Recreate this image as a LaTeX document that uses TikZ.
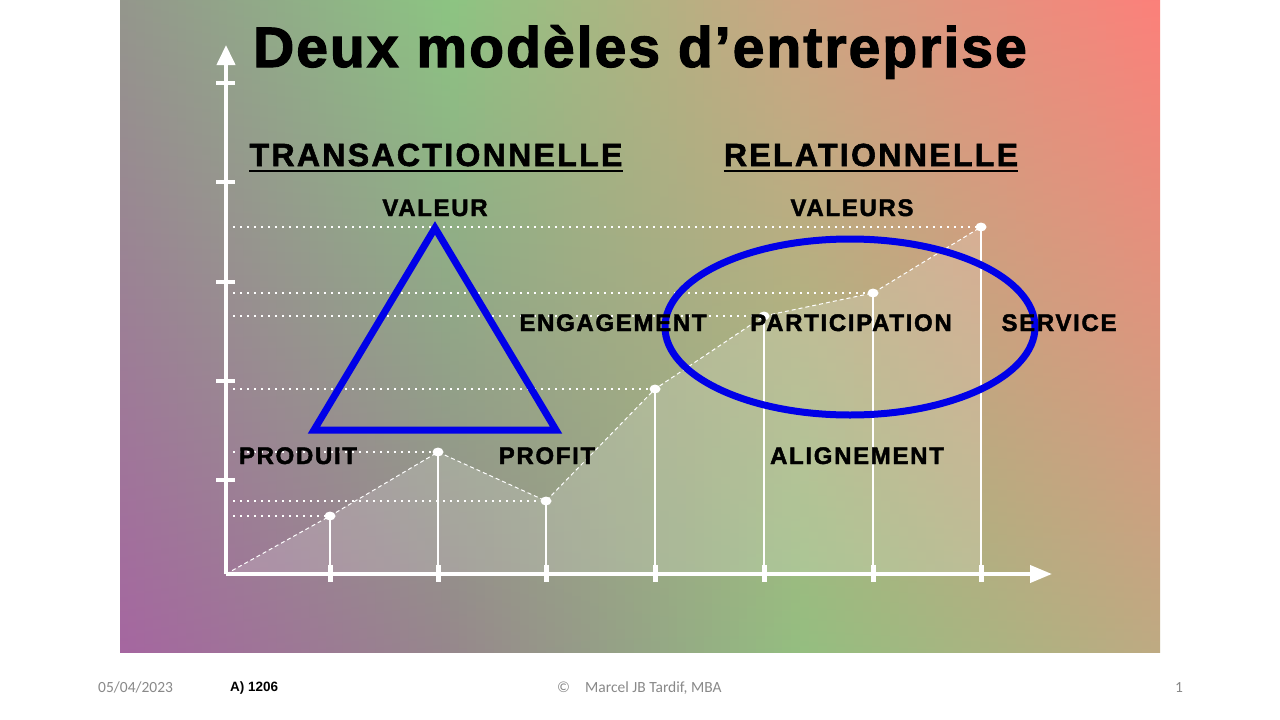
\documentclass[tikz,border=0pt]{standalone}
\usepackage{fontspec}
\setmainfont{Liberation Sans}
\newfontfamily\titlefont[LetterSpace=3.6,FakeBold=2]{Liberation Sans Bold}
\newfontfamily\headfont[LetterSpace=7.3,FakeBold=1.8]{Liberation Sans Bold}
\newfontfamily\lblfont[LetterSpace=7,FakeBold=1.8]{Liberation Sans Bold}
\newfontfamily\codefont{Liberation Sans Bold}
\newfontfamily\footfont{Carlito}
\usetikzlibrary{arrows.meta}

\definecolor{tA}{RGB}{148,150,140}
\definecolor{bA}{RGB}{165,102,160}
\definecolor{tB}{RGB}{140,196,130}
\definecolor{bB}{RGB}{150,135,140}
\definecolor{tC}{RGB}{205,165,130}
\definecolor{bC}{RGB}{148,190,128}
\definecolor{tD}{RGB}{252,128,122}
\definecolor{bD}{RGB}{190,170,130}
\definecolor{shapeblue}{RGB}{0,0,232}
\definecolor{footgray}{RGB}{137,137,137}

\tikzset{
  lbl/.style={font=\lblfont\fontsize{24}{24}\selectfont, anchor=base, inner sep=0pt},
  head/.style={font=\headfont\fontsize{32}{32}\selectfont, anchor=base, inner sep=0pt},
  foot/.style={font=\footfont\fontsize{15.5}{16}\selectfont, text=footgray, anchor=base west, inner sep=0pt},
  axis/.style={white, line width=4pt},
  stem/.style={white, line width=2.5pt},
  level/.style={white, line width=1.2pt, dash pattern=on 1.5pt off 5.5pt},
  trend/.style={white, line width=1pt, dash pattern=on 4pt off 3pt},
  dot/.style={white},
  blueline/.style={shapeblue, line width=7pt}
}

\begin{document}
\begin{tikzpicture}[x=1pt,y=-1pt]
\newcommand{\gradband}[6]{%
  \foreach \k in {0,...,39}{%
    \pgfmathsetmacro{\pp}{2.5*\k+1.25}%
    \pgfmathsetmacro{\xa}{#1+(#2-#1)*\k/40}%
    \pgfmathsetmacro{\xb}{#1+(#2-#1)*(\k+1)/40+0.6}%
    \colorlet{ctop}{#5!\pp!#3}%
    \colorlet{cbot}{#6!\pp!#4}%
    \shade[top color=ctop,bottom color=cbot] (\xa,0) rectangle (\xb,652);
  }}
\fill[white] (0,0) rectangle (1280,720);
\begin{scope}
\clip (120,0) rectangle (1160,652);
\gradband{120}{450}{tA}{bA}{tB}{bB}
\gradband{450}{800}{tB}{bB}{tC}{bC}
\gradband{800}{1160}{tC}{bC}{tD}{bD}
\end{scope}

\coordinate (O) at (226,574);
\coordinate (ytop) at (226,45);
\coordinate (xend) at (1052,574);
\coordinate (p1) at (330,516);
\coordinate (p2) at (438,452);
\coordinate (p3) at (546,501);
\coordinate (p4) at (655,389);
\coordinate (p5) at (764,316);
\coordinate (p6) at (873,293);
\coordinate (p7) at (981,227);

\fill[white, opacity=0.17] (O) -- (p1) -- (p2) -- (p3) -- (p4) -- (p5) -- (p6) -- (p7) -- (p7 |- O) -- cycle;% area under the curve

\foreach \i in {1,...,7}{
  \draw[level] (O |- p\i) -- (p\i);
  \draw[stem] (p\i) -- (p\i |- O);
  \draw[white, line width=5pt] (p\i |- O) ++(0,-9) -- ++(0,17);
}
\draw[trend] (O) -- (p1) -- (p2) -- (p3) -- (p4) -- (p5) -- (p6) -- (p7);
\foreach \i in {1,...,7}
  \fill[dot] (p\i) ellipse (5.5 and 4.5);

\draw[axis, -{Triangle[length=20pt,width=18pt]}] (O) -- (ytop);
\draw[axis, -{Triangle[length=22pt,width=17pt]}] (O) -- (xend);
\foreach \yy in {83,182,282,381,480}
  \draw[axis] (216,\yy) -- (235,\yy);

\draw[blueline, line join=miter] (435,228) -- (556,430) -- (314,430) -- cycle;% triangle
\draw[blueline] (850,327) ellipse (185 and 88);% ellipse

\node[font=\titlefont\fontsize{57}{57}\selectfont, anchor=base, inner sep=0pt] (title) at (640,67) {Deux modèles d’entreprise};
\node[head] (headT) at (436,166) {TRANSACTIONNELLE};
\node[head] (headR) at (871,166) {RELATIONNELLE};
\draw[line width=2.5pt] ([yshift=-5pt]headT.base west) -- ([yshift=-5pt]headT.base east);
\draw[line width=2.5pt] ([yshift=-5pt]headR.base west) -- ([yshift=-5pt]headR.base east);

\node[lbl] (valeur) at (435,216) {VALEUR};
\node[lbl] (valeurs) at (852,216) {VALEURS};
\node[lbl] (engagement) at (613,331) {ENGAGEMENT};
\node[lbl] (participation) at (851,331) {PARTICIPATION};
\node[lbl] (service) at (1059,331) {SERVICE};
\node[lbl] (produit) at (298,464) {PRODUIT};
\node[lbl] (profit) at (547,464) {PROFIT};
\node[lbl] (alignement) at (857,464) {ALIGNEMENT};

\node[foot] (date) at (98,692) {05/04/2023};
\node[font=\codefont\fontsize{13.5}{14}\selectfont, anchor=base west, inner sep=0pt] (code) at (230,691) {A) 1206};
\node[foot] (copy) at (557,692) {©};
\node[foot] (author) at (585,692) {Marcel JB Tardif, MBA};
\node[foot] (pagenum) at (1175,692) {1};
\end{tikzpicture}
\end{document}
